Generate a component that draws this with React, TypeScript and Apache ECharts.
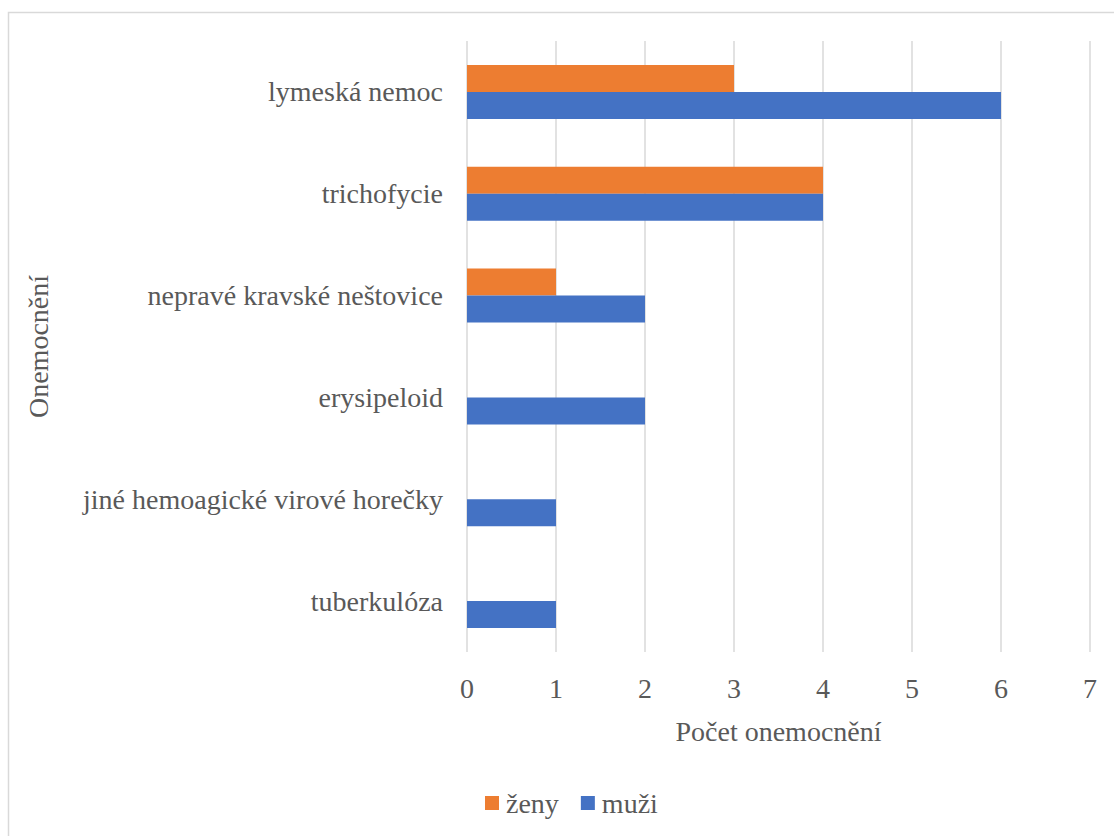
import React, { useEffect, useRef } from "react";
import * as echarts from "echarts";

// Disease categories, listed from the bottom of the axis to the top
const categories = [
  "tuberkulóza",
  "jiné hemoagické virové horečky",
  "erysipeloid",
  "nepravé kravské neštovice",
  "trichofycie",
  "lymeská nemoc",
];

// Case counts per category
const muzi = [1, 1, 2, 2, 4, 6];
const zeny = [0, 0, 0, 1, 4, 3];

const xTicks = { min: 0, max: 7, interval: 1 };

const FONT = "Liberation Serif, serif";
const TEXT = "#595959";

export default function App() {
  const ref = useRef<HTMLDivElement>(null);

  useEffect(() => {
    if (!ref.current) return;
    const chart = echarts.init(ref.current, undefined, { renderer: "svg" });
    chart.setOption({
      animation: false,
      backgroundColor: "#ffffff",
      textStyle: { fontFamily: FONT },
      graphic: [
        {
          type: "rect",
          shape: { x: 8.5, y: 12.5, width: 1130, height: 840 },
          style: { fill: "none", stroke: "#d9d9d9", lineWidth: 1.5 },
          silent: true,
        },
      ],
      legend: {
        data: ["ženy", "muži"],
        left: 485,
        top: 789,
        padding: 0,
        icon: "rect",
        itemWidth: 14,
        itemHeight: 14,
        itemGap: 22,
        textStyle: { fontSize: 28, color: TEXT, fontFamily: FONT, padding: [0, 0, 0, 2] },
      },
      grid: { left: 467, right: 24, top: 41, bottom: 184, containLabel: false },
      xAxis: {
        type: "value",
        min: xTicks.min,
        max: xTicks.max,
        interval: xTicks.interval,
        name: "Počet onemocnění",
        nameLocation: "middle",
        nameGap: 65,
        nameTextStyle: { fontSize: 28, color: TEXT, fontFamily: FONT },
        axisLine: { show: false },
        axisTick: { show: false },
        axisLabel: { fontSize: 28, color: TEXT, fontFamily: FONT, margin: 22 },
        splitLine: { show: true, lineStyle: { color: "#d9d9d9", width: 1.5 } },
      },
      yAxis: {
        type: "category",
        data: categories,
        name: "Onemocnění",
        nameLocation: "middle",
        nameGap: 415,
        nameTextStyle: { fontSize: 28, color: TEXT, fontFamily: FONT },
        axisLine: { show: false },
        axisTick: { show: false },
        axisLabel: { fontSize: 28, color: TEXT, fontFamily: FONT, margin: 24 },
        splitLine: { show: false },
      },
      // ženy first so its bar sits above muži within each category
      series: [
        {
          name: "ženy",
          type: "bar",
          data: zeny,
          barWidth: 27,
          barGap: "0%",
          itemStyle: { color: "#ED7D31" },
        },
        {
          name: "muži",
          type: "bar",
          data: muzi,
          barWidth: 27,
          barGap: "0%",
          itemStyle: { color: "#4472C4" },
        },
      ],
    });
    return () => chart.dispose();
  }, []);

  return (
    <div
      ref={ref}
      style={{ position: "fixed", left: 0, top: 0, width: 1114, height: 836 }}
    />
  );
}
